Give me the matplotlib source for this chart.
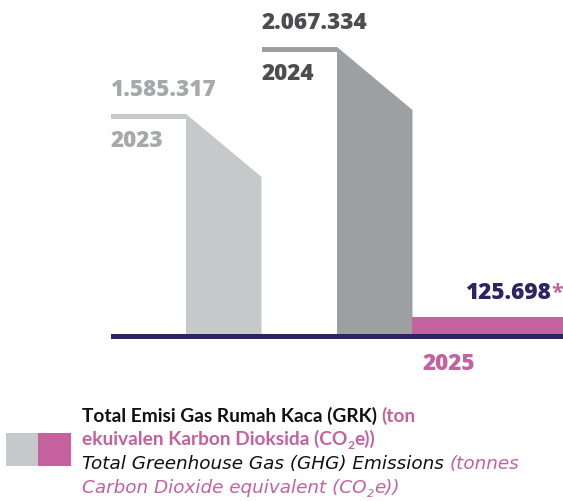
import matplotlib
matplotlib.use('Agg')
import matplotlib.pyplot as plt
from matplotlib.patches import Rectangle, Polygon

# data
years = ['2023', '2024', '2025']
values = [1585317, 2067334, 125698]
value_labels = ['1.585.317', '2.067.334', '125.698']

bar_colors = ['#c7c8ca', '#9d9fa2', '#c5619f']
value_colors = ['#a6a8ab', '#4d4d4f', '#2d2461']
year_colors = ['#a6a8ab', '#4d4d4f', '#c5619f']
navy = '#2d2461'
pink = '#c5619f'

plt.rcParams['font.family'] = ['Lato', 'DejaVu Sans']
num_font = ['Open Sans', 'DejaVu Sans']

W, H = 563, 501
fig = plt.figure(figsize=(W / 100, H / 100), dpi=100)
ax = fig.add_axes([0, 0, 1, 1])
ax.axis('off')

# y units per pixel, tallest bar drawn 287 px high
k = max(values) / 287
ax.set_xlim(-186 / 151, 377 / 151)
ax.set_ylim(-(H - 334) * k, 334 * k)

drop = 63 * k      # slant of the bar tops
line_t = 5 * k     # thickness of the ledge to the left of each bar
fs = 16.2

for i, v in enumerate(values):
    c = bar_colors[i]
    if v > drop:
        ax.add_patch(Rectangle((i - 0.5, v - line_t), 0.5, line_t, color=c, lw=0))
        ax.add_patch(Polygon([(i, 0), (i, v), (i + 0.5, v - drop), (i + 0.5, 0)],
                             closed=True, color=c, lw=0))
        ax.text(i - 0.5, v + 18 * k, value_labels[i], ha='left', va='baseline',
                fontsize=fs, fontweight='heavy', family=num_font, color=value_colors[i])
        ax.text(i - 0.5, v - 33 * k, years[i], ha='left', va='baseline',
                fontsize=fs, fontweight='heavy', family=num_font, color=year_colors[i])
    else:
        ax.add_patch(Rectangle((i - 0.5, 0), 1.0, v, color=c, lw=0))
        ax.text(i + 0.5 - 13 / 151, v + 18 * k, value_labels[i], ha='right', va='baseline',
                fontsize=fs, fontweight='heavy', family=num_font, color=value_colors[i])
        ax.text(i + 0.5 - 1 / 151, v + 18 * k, '*', ha='right', va='baseline',
                fontsize=fs * 0.95, fontweight='bold', family=num_font, color=pink)
        ax.text(i - 0.5 + 10 / 151, -36 * k, years[i], ha='left', va='baseline',
                fontsize=fs, fontweight='heavy', family=num_font, color=year_colors[i])

# baseline
ax.add_patch(Rectangle((-0.5, -5 * k), 3.0, 5 * k, color=navy, lw=0))

# legend
def fx(px):
    return px / W

def fy(py):
    return 1 - py / H

fig.patches.append(Rectangle((fx(6), fy(466)), 32 / W, 33 / H, color=bar_colors[0],
                             lw=0, transform=fig.transFigure, figure=fig))
fig.patches.append(Rectangle((fx(38), fy(466)), 33 / W, 33 / H, color=pink,
                             lw=0, transform=fig.transFigure, figure=fig))

renderer = fig.canvas.get_renderer()


def write_line(x, y, pieces, style='normal', weight='bold', size=13.8, family=None):
    family = family or ['Lato', 'DejaVu Sans']
    for text, color, sub in pieces:
        if sub:
            t = fig.text(fx(x), fy(y + 4), text, color=color, fontsize=size * 0.62,
                         fontstyle=style, fontweight=weight, va='baseline', family=family)
        else:
            t = fig.text(fx(x), fy(y), text, color=color, fontsize=size,
                         fontstyle=style, fontweight=weight, va='baseline', family=family)
        bb = t.get_window_extent(renderer)
        x = bb.x1


blk = '#111111'
write_line(82, 422, [('Total Emisi Gas Rumah Kaca (GRK) ', blk, False),
                     ('(ton', pink, False)])
write_line(82, 445, [('ekuivalen Karbon Dioksida (CO', pink, False),
                     ('2', pink, True), ('e))', pink, False)])
ital = ['DejaVu Sans']
write_line(82, 469, [('Total Greenhouse Gas (GHG) Emissions ', blk, False),
                     ('(tonnes', pink, False)], style='oblique', weight='ultralight',
           size=13.2, family=ital)
write_line(82, 493, [('Carbon Dioxide equivalent (CO', pink, False),
                     ('2', pink, True), ('e))', pink, False)], style='oblique',
           weight='ultralight', size=13.2, family=ital)

fig.savefig('out.png', dpi=100)
